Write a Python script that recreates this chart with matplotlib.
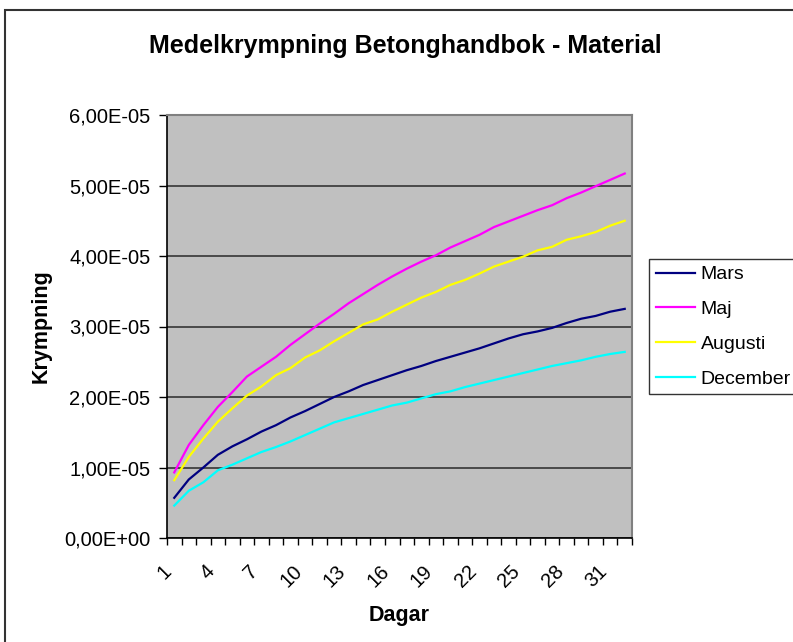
import matplotlib.pyplot as plt
import matplotlib.patches as patches
import matplotlib.transforms as mtransforms
import numpy as np

# days (categories) and shrinkage per month
dagar = list(range(1, 33))
mars = [0.57, 0.83, 1.00, 1.18, 1.30, 1.40, 1.51, 1.60, 1.71, 1.80, 1.90, 2.00,
        2.08, 2.17, 2.24, 2.31, 2.38, 2.44, 2.51, 2.57, 2.63, 2.69, 2.76, 2.83,
        2.89, 2.93, 2.98, 3.05, 3.11, 3.15, 3.21, 3.25]
maj = [0.93, 1.32, 1.60, 1.86, 2.07, 2.29, 2.43, 2.57, 2.74, 2.89, 3.04, 3.18,
       3.33, 3.46, 3.59, 3.71, 3.82, 3.92, 4.01, 4.12, 4.21, 4.30, 4.41, 4.49,
       4.57, 4.65, 4.72, 4.82, 4.90, 4.99, 5.08, 5.17]
augusti = [0.82, 1.15, 1.41, 1.65, 1.84, 2.02, 2.15, 2.31, 2.41, 2.56, 2.66, 2.79,
           2.91, 3.03, 3.10, 3.21, 3.31, 3.41, 3.49, 3.59, 3.66, 3.75, 3.85, 3.92,
           3.99, 4.08, 4.13, 4.23, 4.28, 4.34, 4.43, 4.50]
december = [0.46, 0.67, 0.79, 0.96, 1.04, 1.13, 1.22, 1.29, 1.37, 1.46, 1.55, 1.64,
            1.70, 1.76, 1.82, 1.88, 1.92, 1.98, 2.04, 2.08, 2.14, 2.19, 2.24, 2.29,
            2.34, 2.39, 2.44, 2.48, 2.52, 2.57, 2.61, 2.64]
scale = 1e-5

series = [('Mars', mars, '#000080'), ('Maj', maj, '#FF00FF'),
          ('Augusti', augusti, '#FFFF00'), ('December', december, '#00FFFF')]

plt.rcParams['font.family'] = ['Liberation Sans', 'DejaVu Sans']

fig = plt.figure(figsize=(7.93, 6.42), dpi=100)
ax = fig.add_axes([167 / 793, 1 - 538 / 642, 465 / 793, 423 / 642])
ax.set_facecolor('#C0C0C0')

for name, vals, col in series:
    ax.plot(dagar, np.array(vals) * scale, color=col, lw=1.6, label=name)

ax.set_xlim(0.5, 32.5)
ax.set_ylim(0, 6e-5)

# y axis
yt = np.arange(0, 7) * 1e-5
ax.set_yticks(yt)
ax.set_yticklabels([f"{v:.2E}".replace('.', ',') for v in yt], fontsize=14.5)
ax.tick_params(axis='y', direction='out', length=6, width=1, pad=6)
ax.yaxis.grid(True, color='#404040', lw=1.3)
ax.set_axisbelow(True)

# x axis: category boundaries as minor ticks, every third label
ax.set_xticks(np.arange(0.5, 33, 1), minor=True)
ax.set_xticks(dagar[::3])
ax.set_xticklabels([str(d) for d in dagar[::3]], fontsize=14.5, rotation=45,
                   ha='right', va='center', rotation_mode='anchor')
ax.tick_params(axis='x', which='major', length=0, pad=22)
ax.tick_params(axis='x', which='minor', direction='out', length=5, width=1)
shift = mtransforms.ScaledTranslation(-6 / 100, 0, fig.dpi_scale_trans)
for lbl in ax.get_xticklabels():
    lbl.set_transform(lbl.get_transform() + shift)

for s in ['left', 'bottom']:
    ax.spines[s].set_color('black')
    ax.spines[s].set_linewidth(1.2)
for s in ['top', 'right']:
    ax.spines[s].set_color('#808080')
    ax.spines[s].set_linewidth(1.5)

ax.set_xlabel('Dagar', fontsize=15.5, fontweight='bold', labelpad=10)
ax.set_ylabel('Krympning', fontsize=15.5, fontweight='bold', labelpad=9)
fig.text(405 / 793, 1 - 46 / 642, 'Medelkrympning Betonghandbok - Material',
         ha='center', va='center', fontsize=18, fontweight='bold')

leg = fig.legend(loc='upper left', bbox_to_anchor=(649 / 793, 1 - 259 / 642),
                 fontsize=14, frameon=True, fancybox=False, handlelength=2.0,
                 handletextpad=0.3, labelspacing=0.88, borderpad=0.35,
                 borderaxespad=0)
leg.get_frame().set_edgecolor('black')
leg.get_frame().set_linewidth(1)

# chart area border (cut by image edge on right and bottom)
fig.patches.append(patches.Rectangle((5 / 793, -0.1), 1.2, 1.1 - 10 / 642,
                                     transform=fig.transFigure, fill=False,
                                     edgecolor='#333333', lw=1.5))

fig.savefig('out.png', dpi=100)
